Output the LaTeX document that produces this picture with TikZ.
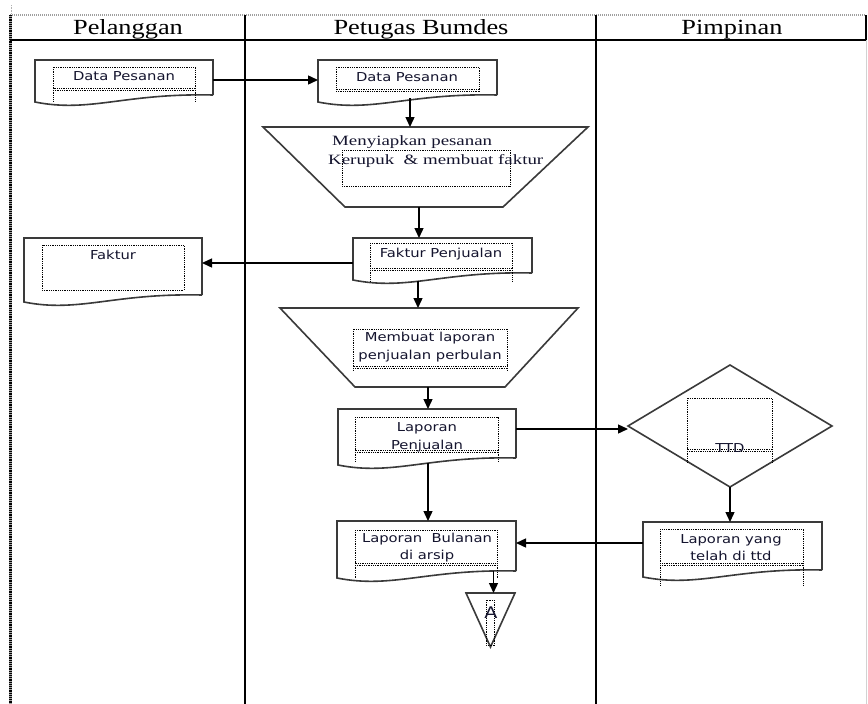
\documentclass[tikz,border=0pt]{standalone}
\usepackage{fontspec}
\setmainfont{Liberation Serif}
\newfontfamily\hdrfont[FakeStretch=1.22]{Liberation Serif}
\newfontfamily\trapfont[FakeStretch=1.33]{Liberation Serif}
\newfontfamily\boxfont[FakeStretch=1.2]{DejaVu Sans}
\usetikzlibrary{arrows.meta,calc}

\definecolor{shp}{HTML}{3A3A3A}
\definecolor{txt}{HTML}{14142E}

\tikzset{
  lane/.style={line width=1.5pt, draw=black},
  shapeline/.style={draw=shp, line width=1.6pt, line join=miter},
  body/.style={rectangle, draw=none, inner sep=0pt, outer sep=0pt},
  dotbox/.style={draw=black, line width=0.9pt, dash pattern=on 0.9pt off 0.9pt},
  arr/.style={line width=1.4pt, draw=black, -{Triangle[length=10pt,width=9pt]}},
  hdr/.style={font=\hdrfont\fontsize{21.6}{24}\selectfont, text=black, inner sep=0pt, anchor=base},
  btext/.style={font=\boxfont\fontsize{12.3}{17.6}\selectfont, text=txt, align=center, inner sep=0pt},
  ttext/.style={font=\trapfont\fontsize{14.2}{19}\selectfont, text=txt, align=left, inner sep=0pt},
}

% document shape: name, left x, top y, width, height at right side
\newcommand{\docshape}[5]{%
  \node[body, anchor=north west, minimum width=#4pt, minimum height=#5pt] (#1) at (#2,#3) {};
  \draw[shapeline] (#1.south east) -- (#1.north east) -- (#1.north west) -- ($(#1.south west)+(0,7)$)
    .. controls +({0.31*#4},11) and +({-0.5*#4},-2) .. (#1.south east);
}
% inner dotted box with double bottom line and side extensions
\newcommand{\ibox}[5]{%
  \draw[dotbox] (#1,#2) rectangle (#3,#4);
  \draw[dotbox] (#1,#4+2) -- (#3,#4+2);
  \draw[dotbox] (#1,#4) -- (#1,#5) (#3,#4) -- (#3,#5);
}
\newcommand{\pbox}[4]{\draw[dotbox] (#1,#2) rectangle (#3,#4);}

\begin{document}
\begin{tikzpicture}[x=1pt,y=-1pt]
\useasboundingbox (0,0) rectangle (868,704);
\fill[white] (0,0) rectangle (868,704);

% ---- frame / swimlanes ----
\draw[draw=gray!60, line width=0.8pt, dash pattern=on 0.8pt off 0.8pt] (11,5) -- (11,15);
\draw[draw=gray!75, line width=1.4pt, dash pattern=on 1pt off 1pt] (10,15) -- (866,15);
\draw[draw=gray!70, line width=3pt] (10,15) -- (10,704);
\draw[draw=black, line width=3pt, dash pattern=on 1.2pt off 1pt] (10,15) -- (10,704);
\draw[lane] (10,40) -- (866,40);
\draw[lane] (245,15) -- (245,704);
\draw[lane] (596,15) -- (596,704);
\draw[lane] (866,15) -- (866,40);
\draw[draw=gray!35, line width=1pt] (866.5,40) -- (866.5,704);

\node[hdr] (h1) at (128,34.5) {Pelanggan};
\node[hdr] (h2) at (421,34.5) {Petugas Bumdes};
\node[hdr] (h3) at (732,34.5) {Pimpinan};

% ---- documents ----
\docshape{dpA}{35}{60}{178}{35}
\docshape{dpB}{318}{60}{179}{35}
\docshape{fp}{353}{238}{179}{35}
\docshape{fk}{24}{238}{178}{57}
\docshape{lp}{338}{409}{178}{49}
\docshape{lt}{643}{522}{179}{48}
\docshape{lb}{337}{521}{179}{50}

% ---- trapezoids (manual operations) ----
\node[body, anchor=north west, minimum width=325pt, minimum height=80pt] (t1) at (263,127) {};
\draw[shapeline] (t1.north west) -- (t1.north east) -- ($(t1.south east)+(-85,0)$)
  -- ($(t1.south west)+(82,0)$) -- cycle;
\node[body, anchor=north west, minimum width=298pt, minimum height=79pt] (t2) at (280,308) {};
\draw[shapeline] (t2.north west) -- (t2.north east) -- ($(t2.south east)+(-73,0)$)
  -- ($(t2.south west)+(75,0)$) -- cycle;

% ---- decision ----
\node[body, minimum width=204pt, minimum height=122pt] (dd) at (730,426) {};
\draw[shapeline] (dd.north) -- (dd.east) -- (dd.south) -- (dd.west) -- cycle;

% ---- off-page connector ----
\node[body, anchor=north west, minimum width=49pt, minimum height=54pt] (tri) at (466,593) {};
\draw[shapeline] (tri.north west) -- (tri.north east) -- (tri.south) -- cycle;

% ---- inner dotted text boxes ----
\ibox{53}{67}{195}{88}{101}
\ibox{336}{67}{479}{89}{91}
\ibox{370}{243}{512}{268}{282}
\pbox{42}{245}{184}{290}
\pbox{342}{150}{510}{186}
\ibox{353}{329}{507}{366}{370}
\ibox{355}{417}{498}{450}{461}
\ibox{687}{398}{772}{449}{462}
\ibox{660}{529}{803}{563}{585}
\ibox{355}{530}{497}{563}{578}
\pbox{486}{600}{494}{645}

% ---- texts ----
\node[btext, anchor=base] (dpA-t) at (124,80) {Data Pesanan};
\node[btext, anchor=base] (dpB-t) at (407,81) {Data Pesanan};
\node[btext, anchor=base] (fp-t) at (441,257.5) {Faktur Penjualan};
\node[btext, anchor=base] (fk-t) at (113,259) {Faktur};
\node[ttext, anchor=north west] (t1-t) at (328,135.3) {\hspace*{4pt}Menyiapkan pesanan\\Kerupuk\ \ \& membuat faktur};
\node[btext] (t2-t) at (430,347.3) {Membuat laporan\\penjualan perbulan};
\node[btext] (lp-t) at (427,437.3) {Laporan\\Penjualan};
\node[btext, anchor=base] (dd-t) at (730,452) {TTD};
\node[btext] (lt-t) at (731,547.5) {Laporan yang\\telah di ttd};
\node[btext] (lb-t) at (427,547.8) {Laporan\ \ Bulanan\\di arsip};
\node[btext, anchor=base, font=\boxfont\fontsize{16}{18}\selectfont] (tri-t) at (491,618.5) {A};

% ---- connectors ----
\draw[arr] ($(dpA.north east)+(0,20)$) -- ($(dpB.north west)+(0,20)$);
\path ($(dpB.south)+(2.5,3)$) coordinate (c2);
\draw[arr] (c2) -- (c2 |- t1.north);
\path ($(t1.south)+(-6.5,0)$) coordinate (c3);
\draw[arr] (c3) -- (c3 |- fp.north);
\path ($(fp.north west)+(0,25)$) coordinate (c4);
\draw[arr] (c4) -- (c4 -| fk.east);
\path ($(fp.south)+(-24.5,8)$) coordinate (c5);
\draw[arr] (c5) -- (c5 |- t2.north);
\path ($(t2.south)+(-1,0)$) coordinate (c6);
\draw[arr] (c6) -- (c6 |- lp.north);
\path ($(lp.north east)+(0,20)$) coordinate (c7);
\draw[arr] (c7) -- (c7 -| dd.west);
\draw[arr] (dd.south) -- (dd.south |- lt.north);
\path ($(lt.north west)+(0,21)$) coordinate (c9);
\draw[arr] (c9) -- (c9 -| lb.east);
\path ($(lp.south)+(1,5)$) coordinate (c10);
\draw[arr] (c10) -- (c10 |- lb.north);
\path ($(tri.north)+(3,0)$) coordinate (tn);
\draw[arr] (tn |- lb.south) -- (tn);
\end{tikzpicture}
\end{document}
